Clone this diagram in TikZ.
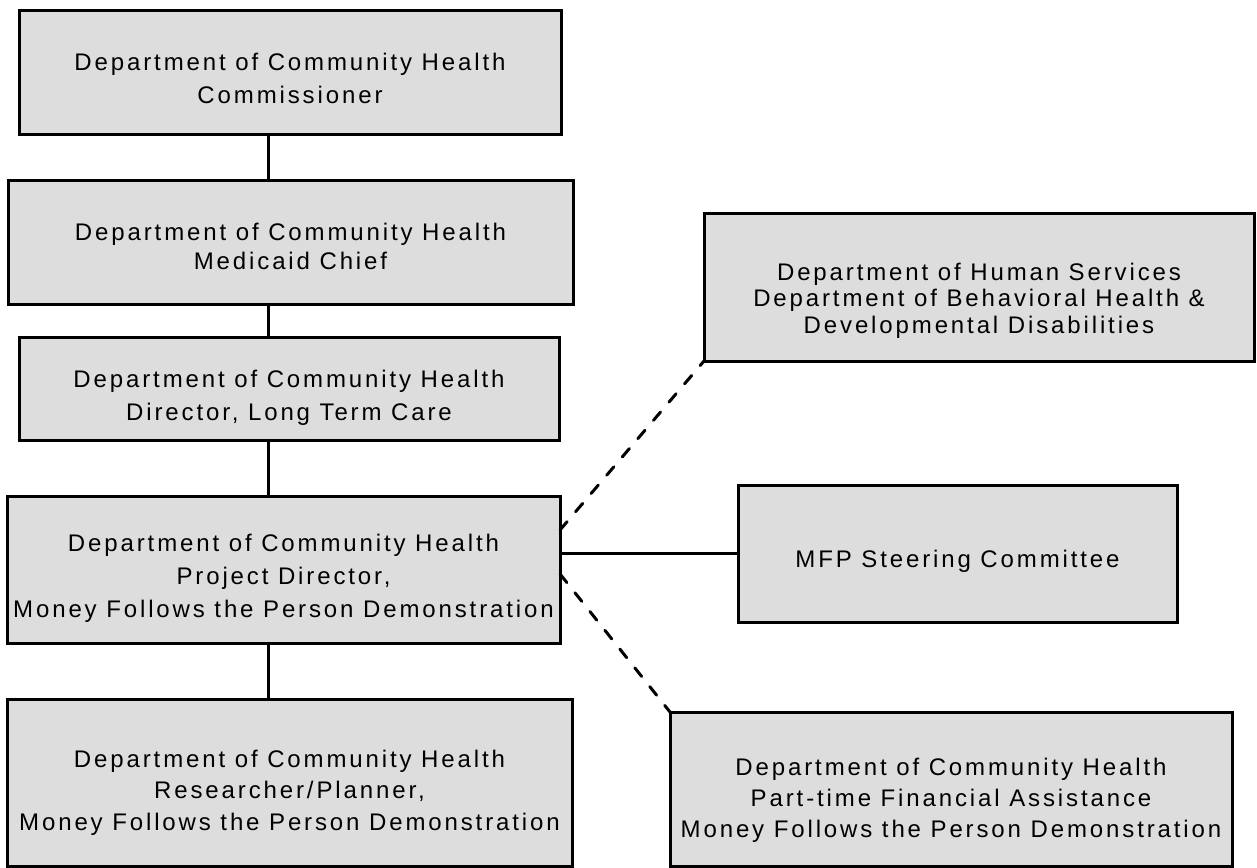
\documentclass[tikz,border=0pt]{standalone}
\usepackage{fontspec}
\newfontfamily\boxfont[LetterSpace=12]{Liberation Sans}
\definecolor{boxgray}{RGB}{221,221,221}
\begin{document}
\begin{tikzpicture}[x=1pt,y=-1pt,
  box/.style={draw=black, line width=3pt, fill=boxgray, inner sep=0pt, outer sep=0pt},
  txt/.style={anchor=north, align=center, inner sep=0pt, text=black},
  link/.style={line width=3pt},
  dlink/.style={line width=3pt, line cap=round, dash pattern=on 11pt off 13pt}]
\useasboundingbox (0,0) rectangle (1257,867);
% boxes
\node[box, minimum width=542pt, minimum height=123pt] (b1) at (290,72.5) {};
\node[box, minimum width=565pt, minimum height=124pt] (b2) at (290.5,242) {};
\node[box, minimum width=540pt, minimum height=103pt] (b3) at (289,388.5) {};
\node[box, minimum width=553pt, minimum height=147pt] (b4) at (283.5,569.5) {};
\node[box, minimum width=565pt, minimum height=167pt] (b5) at (289.5,782.5) {};
\node[box, minimum width=550pt, minimum height=148pt] (b6) at (979,287) {};
\node[box, minimum width=439pt, minimum height=137pt] (b7) at (957.5,553.5) {};
\node[box, minimum width=562pt, minimum height=154pt] (b8) at (951,789) {};
% texts
\node[txt, font={\boxfont\fontsize{24}{33}\selectfont}] (t1) at (290,52.5)
  {Department of Community Health\\Commissioner};
\node[txt, font={\boxfont\fontsize{24}{29}\selectfont}] (t2) at (290.5,223)
  {Department of Community Health\\Medicaid Chief};
\node[txt, font={\boxfont\fontsize{24}{33}\selectfont}] (t3) at (289,369.5)
  {Department of Community Health\\Director, Long Term Care};
\node[txt, font={\boxfont\fontsize{24}{33}\selectfont}] (t4) at (283.5,533.5)
  {Department of Community Health\\Project Director,\\Money Follows the Person Demonstration};
\node[txt, font={\boxfont\fontsize{24}{31.5}\selectfont}] (t5) at (289.5,749.5)
  {Department of Community Health\\Researcher/Planner,\\Money Follows the Person Demonstration};
\node[txt, font={\boxfont\fontsize{24}{26.5}\selectfont}] (t6) at (979,262.5)
  {Department of Human Services\\Department of Behavioral Health \&\\Developmental Disabilities};
\node[txt, font={\boxfont\fontsize{24}{30}\selectfont}] (t7) at (957.5,549.5)
  {MFP Steering Committee};
\node[txt, font={\boxfont\fontsize{24}{31}\selectfont}] (t8) at (951,757.5)
  {Department of Community Health\\Part-time Financial Assistance\\Money Follows the Person Demonstration};
% connectors
\coordinate (col) at (268,0);
\draw[link] (b1.south -| col) -- (b2.north -| col);
\draw[link] (b2.south -| col) -- (b3.north -| col);
\draw[link] (b3.south -| col) -- (b4.north -| col);
\draw[link] (b4.south -| col) -- (b5.north -| col);
\draw[link] (b4.east |- b7.west) -- (b7.west);
\draw[dlink] ([yshift=-34pt]b4.north east) -- (b6.south west);
\draw[dlink] ([yshift=-78pt]b4.north east) -- (b8.north west);
\end{tikzpicture}
\end{document}
